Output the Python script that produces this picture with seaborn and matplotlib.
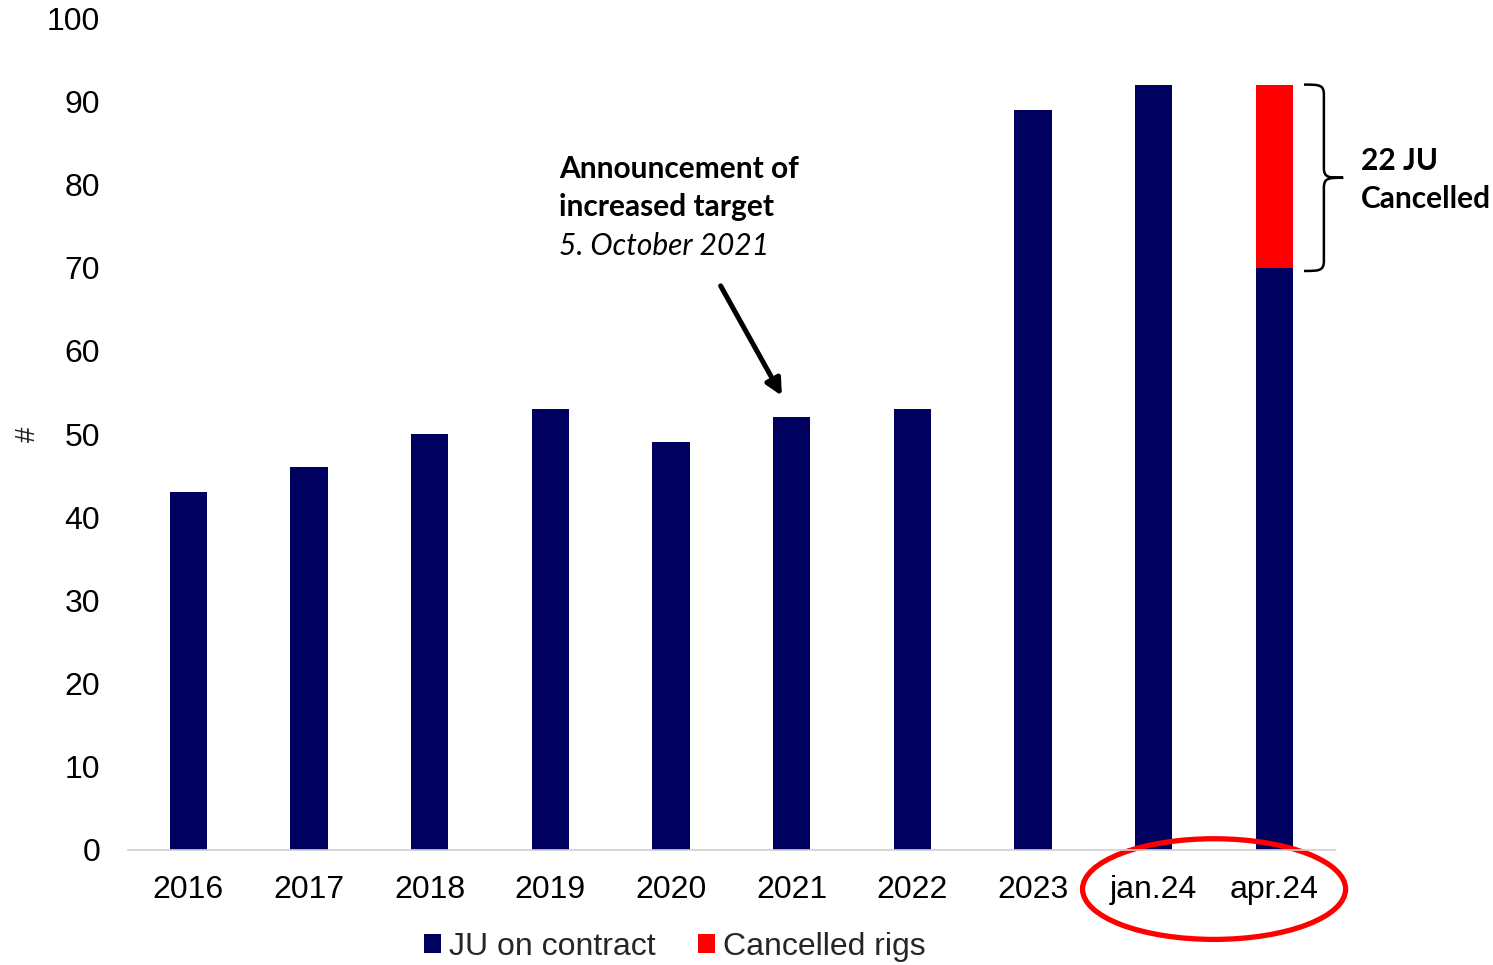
import matplotlib
matplotlib.use("Agg")
import matplotlib.pyplot as plt
import seaborn as sns
import pandas as pd
from matplotlib.patches import Ellipse, Patch, PathPatch
from matplotlib.path import Path

categories = ["2016", "2017", "2018", "2019", "2020", "2021", "2022", "2023", "jan.24", "apr.24"]
on_contract = [43, 46, 50, 53, 49, 52, 53, 89, 92, 70]
cancelled = [0, 0, 0, 0, 0, 0, 0, 0, 0, 22]
series_names = ["JU on contract", "Cancelled rigs"]

NAVY = "#00005E"
RED = "#FF0000"

sns.set_theme(style="white")
plt.rcParams["font.family"] = ["Liberation Sans", "DejaVu Sans"]

df = pd.DataFrame({
    "period": categories,
    "on_contract": on_contract,
    "total": [a + b for a, b in zip(on_contract, cancelled)],
})

fig = plt.figure(figsize=(14.93, 9.65), dpi=100)
ax = fig.add_axes([0.0857, 0.1192, 0.8083, 0.8621])

# stacked bars: full height in red, on-contract portion drawn over it in navy
sns.barplot(data=df, x="period", y="total", color=RED, saturation=1, width=0.31,
            linewidth=0, ax=ax)
sns.barplot(data=df, x="period", y="on_contract", color=NAVY, saturation=1, width=0.31,
            linewidth=0, ax=ax)

ax.set_xlim(-0.5, len(categories) - 0.5)
ax.set_ylim(0, 100)
ax.set_yticks(range(0, 101, 10))
ax.set_xlabel("")
ax.set_ylabel("#", fontsize=20, rotation=90)
ax.yaxis.set_label_coords(-0.072, 0.5)

for s in ["top", "right", "left"]:
    ax.spines[s].set_visible(False)
ax.spines["bottom"].set_color("#D0D0D0")
ax.spines["bottom"].set_linewidth(1.2)
ax.tick_params(axis="both", length=0, labelsize=23, colors="black")
ax.tick_params(axis="y", pad=20)
ax.tick_params(axis="x", pad=18)

# annotation text and arrow
ann_font = ["Lato", "DejaVu Sans"]
ax.text(3.076, 80.77, "Announcement of", fontsize=21.5, fontweight="bold",
        family=ann_font, color="black", ha="left", va="baseline")
ax.text(3.076, 76.2, "increased target", fontsize=21.5, fontweight="bold",
        family=ann_font, color="black", ha="left", va="baseline")
ax.text(3.076, 71.5, "5. October 2021", fontsize=21.5, style="italic",
        family=ann_font, color="black", ha="left", va="baseline")
ax.annotate("", xy=(4.93, 54.3), xytext=(4.40, 68.1),
            arrowprops=dict(arrowstyle="-|>", color="black", lw=3.6, mutation_scale=24))

# curly brace beside the cancelled segment
top, bot = 92, 69.6
mid = (top + bot) / 2
x0, x1, x2 = 9.245, 9.41, 9.57
r = 1.2
verts = [
    (x0, top), (x1 - 0.04, top), (x1, top), (x1, top - r),
    (x1, mid + r),
    (x1, mid), (x1 + 0.04, mid), (x2, mid),
    (x1 + 0.04, mid), (x1, mid), (x1, mid - r),
    (x1, bot + r),
    (x1, bot), (x1 - 0.04, bot), (x0, bot),
]
codes = [Path.MOVETO, Path.CURVE4, Path.CURVE4, Path.CURVE4,
         Path.LINETO,
         Path.CURVE4, Path.CURVE4, Path.CURVE4,
         Path.CURVE4, Path.CURVE4, Path.CURVE4,
         Path.LINETO,
         Path.CURVE4, Path.CURVE4, Path.CURVE4]
ax.add_patch(PathPatch(Path(verts, codes), fill=False, edgecolor="black", lw=1.8, clip_on=False))
ax.text(9.72, 81.7, "22 JU", fontsize=21.5, fontweight="bold", family=ann_font,
        color="black", ha="left", va="baseline")
ax.text(9.72, 77.2, "Cancelled", fontsize=21.5, fontweight="bold", family=ann_font,
        color="black", ha="left", va="baseline")

# highlight the two latest periods
ax.add_patch(Ellipse((8.5, -4.7), 2.18, 12.1, fill=False, edgecolor=RED, lw=3.8, clip_on=False))

handles = [Patch(facecolor=NAVY, edgecolor="none"), Patch(facecolor=RED, edgecolor="none")]
fig.legend(handles, series_names, loc="center", bbox_to_anchor=(0.452, 0.019), ncol=2,
           frameon=False, fontsize=23, handlelength=0.55, handleheight=0.55,
           handletextpad=0.25, columnspacing=1.3)

fig.savefig("out.png", dpi=100)
